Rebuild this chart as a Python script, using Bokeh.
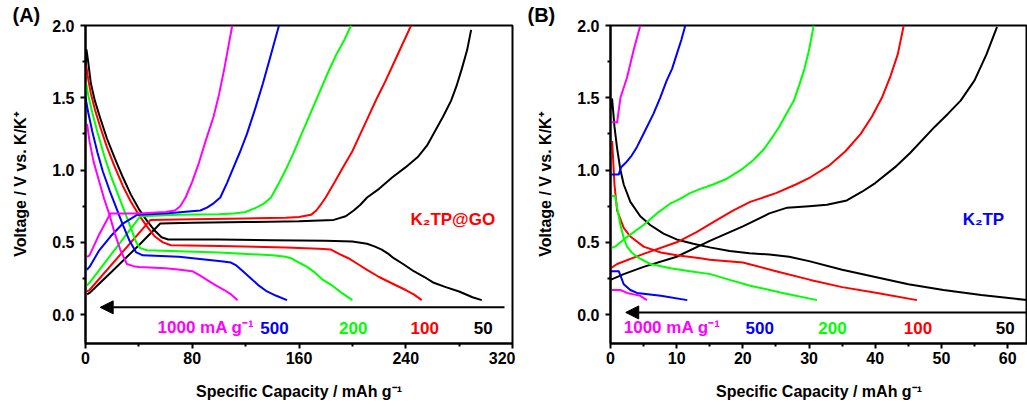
from bokeh.plotting import figure
from bokeh.models import Range1d, FixedTicker, NumeralTickFormatter, Arrow, NormalHead, ColumnDataSource
from bokeh.layouts import row
from bokeh.core.properties import value
from bokeh.embed import file_html
from bokeh.resources import INLINE

FONT = "Liberation Sans"
rates = ["50", "100", "200", "500", "1000"]
rate_colors = ["#000000", "#FF0000", "#00FF00", "#0000FF", "#FF00FF"]
rate_texts = ["50", "100", "200", "500", "1000 mA g\u207b\u00b9"]

# ---------------- Panel A : K2TP@GO ----------------
a_dis_x_50 = [0, 0.8, 2, 4, 7, 11, 16, 22, 28, 34, 40, 46, 52, 57, 62, 70, 100, 140, 180, 200, 211, 217, 222, 227, 231, 238, 246, 254, 261, 270, 280, 290, 297]
a_dis_y_50 = [1.72, 1.83, 1.75, 1.6, 1.48, 1.36, 1.22, 1.08, 0.95, 0.83, 0.73, 0.65, 0.58, 0.535, 0.52, 0.52, 0.52, 0.515, 0.51, 0.505, 0.49, 0.47, 0.45, 0.42, 0.39, 0.35, 0.30, 0.26, 0.22, 0.19, 0.16, 0.12, 0.10]
a_chg_x_50 = [1.2, 3, 20, 40, 56, 80, 120, 160, 186, 195, 201, 206, 211, 220, 230, 240, 249, 256, 262, 268, 274, 278, 282, 286, 289]
a_chg_y_50 = [0.14, 0.15, 0.30, 0.48, 0.63, 0.635, 0.64, 0.645, 0.655, 0.68, 0.72, 0.76, 0.81, 0.87, 0.95, 1.02, 1.09, 1.17, 1.27, 1.37, 1.48, 1.58, 1.70, 1.83, 1.97]

a_dis_x_100 = [0, 0.6, 2, 4, 7, 11, 16, 22, 28, 34, 40, 46, 52, 58, 64, 100, 150, 175, 184, 190, 197, 204, 211, 220, 231, 240, 246, 252]
a_dis_y_100 = [1.66, 1.72, 1.63, 1.53, 1.42, 1.3, 1.16, 1.02, 0.89, 0.78, 0.69, 0.61, 0.54, 0.50, 0.48, 0.475, 0.465, 0.455, 0.45, 0.42, 0.39, 0.35, 0.31, 0.26, 0.21, 0.17, 0.14, 0.10]
a_chg_x_100 = [1, 3, 48.7, 80, 120, 150, 160, 169, 173, 177, 180, 187, 193, 200, 206, 212, 218, 224, 230, 237, 244]
a_chg_y_100 = [0.16, 0.17, 0.655, 0.66, 0.665, 0.67, 0.675, 0.69, 0.72, 0.77, 0.81, 0.92, 1.02, 1.13, 1.25, 1.37, 1.49, 1.6, 1.72, 1.86, 2.0]

a_dis_x_200 = [0, 0.5, 2, 5, 9, 14, 19, 24, 29, 34, 38, 41, 46, 100, 140, 150, 154, 158, 162, 166, 172, 178, 185, 192, 200]
a_dis_y_200 = [1.55, 1.6, 1.52, 1.4, 1.26, 1.1, 0.96, 0.84, 0.72, 0.6, 0.5, 0.46, 0.445, 0.43, 0.41, 0.40, 0.39, 0.37, 0.35, 0.33, 0.29, 0.24, 0.2, 0.15, 0.10]
a_chg_x_200 = [1, 3, 41, 70, 100, 111, 120, 128, 134, 139, 145, 150, 156, 161, 168, 175, 182, 188, 194, 199]
a_chg_y_200 = [0.2, 0.22, 0.68, 0.69, 0.695, 0.70, 0.71, 0.74, 0.77, 0.81, 0.91, 1.0, 1.12, 1.23, 1.38, 1.53, 1.68, 1.8, 1.9, 2.0]

a_dis_x_500 = [0, 2, 5, 9, 13, 18, 23, 28, 33, 38, 43, 70, 91, 100, 109, 113, 118, 124, 130, 136, 143, 151]
a_dis_y_500 = [1.5, 1.4, 1.27, 1.12, 0.99, 0.86, 0.74, 0.62, 0.51, 0.43, 0.41, 0.40, 0.38, 0.37, 0.36, 0.34, 0.30, 0.25, 0.2, 0.16, 0.13, 0.10]
a_chg_x_500 = [1, 3, 10, 18.7, 28, 38.7, 60, 86, 91, 96, 101, 106, 111, 116, 121, 127, 133, 139, 145]
a_chg_y_500 = [0.31, 0.33, 0.44, 0.54, 0.63, 0.69, 0.70, 0.72, 0.74, 0.77, 0.81, 0.91, 1.02, 1.13, 1.25, 1.42, 1.6, 1.8, 2.0]

a_dis_x_1000 = [1.2, 3, 6, 10, 14, 18, 22, 26, 31, 36, 40, 60, 71, 80, 86, 91, 98, 104, 109, 114]
a_dis_y_1000 = [1.32, 1.2, 1.06, 0.93, 0.8, 0.69, 0.56, 0.45, 0.35, 0.335, 0.33, 0.32, 0.31, 0.30, 0.27, 0.24, 0.20, 0.17, 0.14, 0.10]
a_chg_x_1000 = [1.2, 3, 10, 18.7, 40, 60, 67, 71, 75, 80, 85, 90, 96, 100, 104, 107, 110]
a_chg_y_1000 = [0.40, 0.41, 0.55, 0.70, 0.70, 0.71, 0.72, 0.75, 0.81, 0.92, 1.05, 1.2, 1.37, 1.52, 1.7, 1.85, 2.0]

# ---------------- Panel B : K2TP ----------------
b_dis_x_50 = [0, 0.25, 0.6, 1, 1.5, 2, 3, 4.5, 6, 8, 10, 12.5, 15, 18, 21, 24, 27, 30, 35, 40, 45, 50.3, 56, 63]
b_dis_y_50 = [1.42, 1.49, 1.3, 1.15, 1.0, 0.9, 0.78, 0.68, 0.62, 0.56, 0.52, 0.49, 0.465, 0.44, 0.425, 0.415, 0.40, 0.37, 0.31, 0.26, 0.21, 0.17, 0.135, 0.10]
b_chg_x_50 = [0, 2, 5, 10, 15, 20, 24, 26.7, 30, 32.7, 35.7, 38, 40, 43, 45.3, 49, 51, 52.9, 55, 56.8, 58.4]
b_chg_y_50 = [0.24, 0.28, 0.33, 0.40, 0.51, 0.61, 0.70, 0.74, 0.75, 0.76, 0.79, 0.85, 0.91, 1.02, 1.12, 1.3, 1.39, 1.48, 1.62, 1.8, 1.99]

b_dis_x_100 = [0.25, 0.6, 1, 2, 3, 5, 7.6, 10, 13.6, 15, 20, 25, 30.2, 35, 40.3, 46.3]
b_dis_y_100 = [1.2, 0.9, 0.72, 0.6, 0.54, 0.47, 0.43, 0.41, 0.39, 0.38, 0.36, 0.30, 0.24, 0.19, 0.15, 0.10]
b_chg_x_100 = [0, 1, 5, 10, 13, 16.1, 18.5, 21.1, 25, 28, 30.2, 33, 35.5, 37.8, 39.5, 41, 42.3, 43.4, 44.3]
b_chg_y_100 = [0.32, 0.35, 0.42, 0.50, 0.57, 0.655, 0.72, 0.78, 0.84, 0.9, 0.95, 1.03, 1.13, 1.25, 1.37, 1.5, 1.65, 1.8, 2.0]

b_dis_x_200 = [0, 0.7, 1, 1.5, 2, 2.5, 3.2, 4, 6, 9.1, 12, 15.1, 18, 21.1, 26, 31.2]
b_dis_y_200 = [0.82, 0.82, 0.74, 0.62, 0.53, 0.47, 0.43, 0.40, 0.35, 0.32, 0.30, 0.28, 0.24, 0.20, 0.15, 0.10]
b_chg_x_200 = [0, 0.7, 2, 5, 7, 9.1, 10.5, 12, 13.6, 15.5, 17.6, 20, 21.6, 23.1, 24.5, 25.5, 26.7, 27.7, 28.6, 29.3, 30, 30.7]
b_chg_y_200 = [0.46, 0.47, 0.52, 0.62, 0.7, 0.77, 0.8, 0.84, 0.87, 0.9, 0.94, 1.01, 1.07, 1.14, 1.23, 1.3, 1.4, 1.48, 1.6, 1.7, 1.83, 2.0]

b_dis_x_500 = [0, 1.25, 2, 3, 4, 7.6, 11.6]
b_dis_y_500 = [0.30, 0.30, 0.21, 0.17, 0.15, 0.13, 0.10]
b_chg_x_500 = [0, 1.25, 1.6, 2.3, 3.2, 4, 5.2, 6.5, 7.5, 8.5, 9.3, 10, 10.7, 11.3]
b_chg_y_500 = [0.97, 0.97, 1.02, 1.05, 1.1, 1.16, 1.27, 1.39, 1.5, 1.62, 1.7, 1.8, 1.9, 2.0]

b_dis_x_1000 = [0, 1.5, 2.5, 3.5, 4.5, 5.5]
b_dis_y_1000 = [0.17, 0.17, 0.15, 0.14, 0.13, 0.10]
b_chg_x_1000 = [0, 1, 1.5, 2.5, 3.5, 4.5]
b_chg_y_1000 = [1.33, 1.33, 1.5, 1.64, 1.83, 2.0]

# axis ticks
a_xticks = [0, 80, 160, 240, 320]
a_xminor = [40, 120, 200, 280]
b_xticks = [0, 10, 20, 30, 40, 50, 60]
b_xminor = [5, 15, 25, 35, 45, 55]
yticks = [0.0, 0.5, 1.0, 1.5, 2.0]
yminor = [0.25, 0.75, 1.25, 1.75]

# annotation positions (data units)
a_rate_label_x = [291, 243.6, 190, 131, 54]
b_rate_label_x = [58.2, 44.3, 31.4, 20.4, 2.0]
rate_label_y = -0.09

A_curves = {
    "50": (a_dis_x_50, a_dis_y_50, a_chg_x_50, a_chg_y_50),
    "100": (a_dis_x_100, a_dis_y_100, a_chg_x_100, a_chg_y_100),
    "200": (a_dis_x_200, a_dis_y_200, a_chg_x_200, a_chg_y_200),
    "500": (a_dis_x_500, a_dis_y_500, a_chg_x_500, a_chg_y_500),
    "1000": (a_dis_x_1000, a_dis_y_1000, a_chg_x_1000, a_chg_y_1000),
}
B_curves = {
    "50": (b_dis_x_50, b_dis_y_50, b_chg_x_50, b_chg_y_50),
    "100": (b_dis_x_100, b_dis_y_100, b_chg_x_100, b_chg_y_100),
    "200": (b_dis_x_200, b_dis_y_200, b_chg_x_200, b_chg_y_200),
    "500": (b_dis_x_500, b_dis_y_500, b_chg_x_500, b_chg_y_500),
    "1000": (b_dis_x_1000, b_dis_y_1000, b_chg_x_1000, b_chg_y_1000),
}


def make_panel(curves, xr, xticks, xminor, width, left, right, label_x, panel_tag, tag_offset,
               material, mat_x, mat_color, arrow_x0, arrow_x1, arrow_y):
    p = figure(width=width, height=406, x_range=Range1d(*xr), y_range=Range1d(-0.2, 2.0),
               output_backend="svg", toolbar_location=None,
               min_border_left=left, min_border_right=right, min_border_top=25, min_border_bottom=63)
    p.background_fill_color = "white"
    p.border_fill_color = "white"
    p.outline_line_color = "black"
    p.outline_line_width = 2
    p.xgrid.visible = False
    p.ygrid.visible = False

    p.title.text = panel_tag
    p.title.align = "left"
    p.title.offset = tag_offset
    p.title.standoff = 0
    p.title.text_font = FONT
    p.title.text_font_style = "bold"
    p.title.text_font_size = "20px"
    p.title.text_color = "black"

    p.xaxis.ticker = FixedTicker(ticks=xticks, minor_ticks=xminor)
    p.yaxis.ticker = FixedTicker(ticks=yticks, minor_ticks=yminor)
    p.yaxis.formatter = NumeralTickFormatter(format="0.0")
    for ax in (p.xaxis[0], p.yaxis[0]):
        ax.axis_line_width = 2
        ax.major_tick_line_width = 2
        ax.minor_tick_line_width = 2
        ax.major_tick_in = 0
        ax.major_tick_out = 5
        ax.minor_tick_in = 0
        ax.minor_tick_out = 3
        ax.major_label_text_font = FONT
        ax.major_label_text_font_style = "bold"
        ax.major_label_text_font_size = "16px"
        ax.major_label_text_color = "black"
        ax.axis_label_text_font = FONT
        ax.axis_label_text_font_style = "bold"
        ax.axis_label_text_font_size = "16px"
        ax.axis_label_text_color = "black"
    p.xaxis.axis_label = "Specific Capacity / mAh g\u207b\u00b9"
    p.yaxis.axis_label = "Voltage / V vs. K/K\u207a"
    p.xaxis.major_label_standoff = 3
    p.xaxis.axis_label_standoff = 16
    p.yaxis.major_label_standoff = 6
    p.yaxis.axis_label_standoff = 20

    for rate, col in zip(rates, rate_colors):
        dx, dy, cx, cy = curves[rate]
        p.line(dx, dy, line_color=col, line_width=2, line_join="round")
        p.line(cx, cy, line_color=col, line_width=2, line_join="round")

    p.add_layout(Arrow(end=NormalHead(size=13, fill_color="black", line_color="black"),
                       x_start=arrow_x0, y_start=arrow_y, x_end=arrow_x1, y_end=arrow_y,
                       line_width=2, line_color="black"))

    src = ColumnDataSource(dict(x=label_x, y=[rate_label_y] * len(label_x),
                                t=rate_texts, c=rate_colors))
    p.text(x="x", y="y", text="t", text_color="c", source=src,
           text_font=value(FONT), text_font_style="bold", text_font_size="17px",
           text_baseline="middle", text_align="left")

    p.text(x=[mat_x], y=[0.655], text=[material], text_color=mat_color,
           text_font=value(FONT), text_font_style="bold", text_font_size="17px",
           text_baseline="middle", text_align="left")
    return p


pA = make_panel(A_curves, (0, 320), a_xticks, a_xminor, 515, 85, 3, a_rate_label_x,
                "(A)", -73, "K\u2082TP@GO", 243.6, "#FF0000", 314, 11, 0.05)
pB = make_panel(B_curves, (0, 63), b_xticks, b_xminor, 512, 95, 0, b_rate_label_x,
                "(B)", -83, "K\u2082TP", 53.2, "#0000FF", 70, 2.3, 0.015)

layout = row(pA, pB)
open("out.html", "w").write(file_html(layout, INLINE))
